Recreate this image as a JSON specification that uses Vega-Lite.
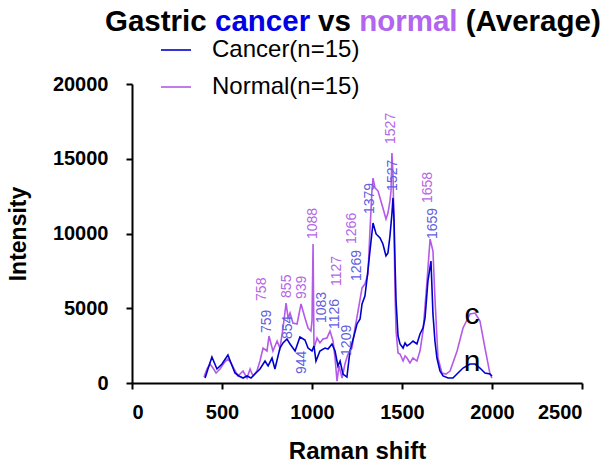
{
  "$schema": "https://vega.github.io/schema/vega-lite/v6.json",
  "width": 450,
  "height": 299,
  "autosize": {"type": "none"},
  "padding": {"left": 132, "top": 84, "right": 30, "bottom": 84},
  "background": "white",
  "config": {
    "view": {"stroke": null},
    "font": "Liberation Sans",
    "axis": {
      "domainColor": "black", "domainWidth": 2, "tickColor": "black", "tickWidth": 2, "tickSize": 6,
      "labelFont": "Liberation Sans", "labelFontWeight": "bold", "labelFontSize": 20, "labelColor": "black",
      "titleFont": "Liberation Sans", "titleFontWeight": "bold", "titleFontSize": 23, "titleColor": "black",
      "grid": false, "format": "d"
    },
    "legend": {
      "orient": "none", "legendX": 28, "legendY": -50,
      "symbolType": "stroke", "symbolSize": 900, "symbolStrokeWidth": 1.6,
      "labelFont": "Liberation Sans", "labelFontSize": 24, "labelColor": "black", "labelOffset": 20,
      "rowPadding": 9, "title": null
    }
  },
  "datasets": {
    "spectra": [
      {"series": "Cancer(n=15)", "shift": 406, "intensity": 330},
      {"series": "Cancer(n=15)", "shift": 422, "intensity": 940},
      {"series": "Cancer(n=15)", "shift": 444, "intensity": 1740},
      {"series": "Cancer(n=15)", "shift": 472, "intensity": 940},
      {"series": "Cancer(n=15)", "shift": 500, "intensity": 1270},
      {"series": "Cancer(n=15)", "shift": 533, "intensity": 1870},
      {"series": "Cancer(n=15)", "shift": 550, "intensity": 1340},
      {"series": "Cancer(n=15)", "shift": 572, "intensity": 670},
      {"series": "Cancer(n=15)", "shift": 594, "intensity": 470},
      {"series": "Cancer(n=15)", "shift": 617, "intensity": 330},
      {"series": "Cancer(n=15)", "shift": 639, "intensity": 470},
      {"series": "Cancer(n=15)", "shift": 661, "intensity": 330},
      {"series": "Cancer(n=15)", "shift": 683, "intensity": 600},
      {"series": "Cancer(n=15)", "shift": 711, "intensity": 940},
      {"series": "Cancer(n=15)", "shift": 739, "intensity": 1470},
      {"series": "Cancer(n=15)", "shift": 756, "intensity": 1140},
      {"series": "Cancer(n=15)", "shift": 778, "intensity": 1670},
      {"series": "Cancer(n=15)", "shift": 794, "intensity": 940},
      {"series": "Cancer(n=15)", "shift": 822, "intensity": 2340},
      {"series": "Cancer(n=15)", "shift": 839, "intensity": 2680},
      {"series": "Cancer(n=15)", "shift": 861, "intensity": 2940},
      {"series": "Cancer(n=15)", "shift": 878, "intensity": 2610},
      {"series": "Cancer(n=15)", "shift": 906, "intensity": 2140},
      {"series": "Cancer(n=15)", "shift": 933, "intensity": 3080},
      {"series": "Cancer(n=15)", "shift": 961, "intensity": 2880},
      {"series": "Cancer(n=15)", "shift": 978, "intensity": 2340},
      {"series": "Cancer(n=15)", "shift": 1000, "intensity": 2140},
      {"series": "Cancer(n=15)", "shift": 1011, "intensity": 2480},
      {"series": "Cancer(n=15)", "shift": 1022, "intensity": 1470},
      {"series": "Cancer(n=15)", "shift": 1044, "intensity": 2140},
      {"series": "Cancer(n=15)", "shift": 1072, "intensity": 2340},
      {"series": "Cancer(n=15)", "shift": 1089, "intensity": 2270},
      {"series": "Cancer(n=15)", "shift": 1111, "intensity": 2610},
      {"series": "Cancer(n=15)", "shift": 1128, "intensity": 2140},
      {"series": "Cancer(n=15)", "shift": 1144, "intensity": 1140},
      {"series": "Cancer(n=15)", "shift": 1156, "intensity": 1470},
      {"series": "Cancer(n=15)", "shift": 1172, "intensity": 600},
      {"series": "Cancer(n=15)", "shift": 1194, "intensity": 400},
      {"series": "Cancer(n=15)", "shift": 1211, "intensity": 2140},
      {"series": "Cancer(n=15)", "shift": 1233, "intensity": 3140},
      {"series": "Cancer(n=15)", "shift": 1250, "intensity": 3950},
      {"series": "Cancer(n=15)", "shift": 1267, "intensity": 4280},
      {"series": "Cancer(n=15)", "shift": 1278, "intensity": 5290},
      {"series": "Cancer(n=15)", "shift": 1294, "intensity": 5820},
      {"series": "Cancer(n=15)", "shift": 1306, "intensity": 7020},
      {"series": "Cancer(n=15)", "shift": 1322, "intensity": 8830},
      {"series": "Cancer(n=15)", "shift": 1339, "intensity": 10700},
      {"series": "Cancer(n=15)", "shift": 1356, "intensity": 9970},
      {"series": "Cancer(n=15)", "shift": 1378, "intensity": 9700},
      {"series": "Cancer(n=15)", "shift": 1394, "intensity": 9300},
      {"series": "Cancer(n=15)", "shift": 1411, "intensity": 8500},
      {"series": "Cancer(n=15)", "shift": 1422, "intensity": 8700},
      {"series": "Cancer(n=15)", "shift": 1433, "intensity": 9830},
      {"series": "Cancer(n=15)", "shift": 1444, "intensity": 11310},
      {"series": "Cancer(n=15)", "shift": 1450, "intensity": 12380},
      {"series": "Cancer(n=15)", "shift": 1456, "intensity": 10840},
      {"series": "Cancer(n=15)", "shift": 1461, "intensity": 8160},
      {"series": "Cancer(n=15)", "shift": 1467, "intensity": 5490},
      {"series": "Cancer(n=15)", "shift": 1478, "intensity": 3140},
      {"series": "Cancer(n=15)", "shift": 1489, "intensity": 2610},
      {"series": "Cancer(n=15)", "shift": 1506, "intensity": 2340},
      {"series": "Cancer(n=15)", "shift": 1517, "intensity": 2680},
      {"series": "Cancer(n=15)", "shift": 1528, "intensity": 2480},
      {"series": "Cancer(n=15)", "shift": 1544, "intensity": 2610},
      {"series": "Cancer(n=15)", "shift": 1561, "intensity": 2810},
      {"series": "Cancer(n=15)", "shift": 1583, "intensity": 2610},
      {"series": "Cancer(n=15)", "shift": 1600, "intensity": 3280},
      {"series": "Cancer(n=15)", "shift": 1617, "intensity": 3680},
      {"series": "Cancer(n=15)", "shift": 1628, "intensity": 4350},
      {"series": "Cancer(n=15)", "shift": 1644, "intensity": 6820},
      {"series": "Cancer(n=15)", "shift": 1661, "intensity": 8160},
      {"series": "Cancer(n=15)", "shift": 1672, "intensity": 4620},
      {"series": "Cancer(n=15)", "shift": 1683, "intensity": 2810},
      {"series": "Cancer(n=15)", "shift": 1694, "intensity": 1670},
      {"series": "Cancer(n=15)", "shift": 1711, "intensity": 800},
      {"series": "Cancer(n=15)", "shift": 1728, "intensity": 470},
      {"series": "Cancer(n=15)", "shift": 1756, "intensity": 330},
      {"series": "Cancer(n=15)", "shift": 1783, "intensity": 330},
      {"series": "Cancer(n=15)", "shift": 1811, "intensity": 670},
      {"series": "Cancer(n=15)", "shift": 1839, "intensity": 1000},
      {"series": "Cancer(n=15)", "shift": 1878, "intensity": 1270},
      {"series": "Cancer(n=15)", "shift": 1906, "intensity": 1270},
      {"series": "Cancer(n=15)", "shift": 1933, "intensity": 1000},
      {"series": "Cancer(n=15)", "shift": 1961, "intensity": 670},
      {"series": "Cancer(n=15)", "shift": 1989, "intensity": 600},
      {"series": "Cancer(n=15)", "shift": 2000, "intensity": 470},
      {"series": "Normal(n=15)", "shift": 400, "intensity": 400},
      {"series": "Normal(n=15)", "shift": 417, "intensity": 940},
      {"series": "Normal(n=15)", "shift": 433, "intensity": 1270},
      {"series": "Normal(n=15)", "shift": 450, "intensity": 1000},
      {"series": "Normal(n=15)", "shift": 467, "intensity": 670},
      {"series": "Normal(n=15)", "shift": 489, "intensity": 940},
      {"series": "Normal(n=15)", "shift": 511, "intensity": 1340},
      {"series": "Normal(n=15)", "shift": 533, "intensity": 1610},
      {"series": "Normal(n=15)", "shift": 550, "intensity": 1340},
      {"series": "Normal(n=15)", "shift": 567, "intensity": 940},
      {"series": "Normal(n=15)", "shift": 589, "intensity": 470},
      {"series": "Normal(n=15)", "shift": 617, "intensity": 800},
      {"series": "Normal(n=15)", "shift": 639, "intensity": 330},
      {"series": "Normal(n=15)", "shift": 656, "intensity": 940},
      {"series": "Normal(n=15)", "shift": 672, "intensity": 470},
      {"series": "Normal(n=15)", "shift": 694, "intensity": 800},
      {"series": "Normal(n=15)", "shift": 711, "intensity": 1470},
      {"series": "Normal(n=15)", "shift": 728, "intensity": 2340},
      {"series": "Normal(n=15)", "shift": 750, "intensity": 2140},
      {"series": "Normal(n=15)", "shift": 761, "intensity": 3140},
      {"series": "Normal(n=15)", "shift": 783, "intensity": 2140},
      {"series": "Normal(n=15)", "shift": 806, "intensity": 2810},
      {"series": "Normal(n=15)", "shift": 822, "intensity": 2340},
      {"series": "Normal(n=15)", "shift": 839, "intensity": 3680},
      {"series": "Normal(n=15)", "shift": 856, "intensity": 5350},
      {"series": "Normal(n=15)", "shift": 867, "intensity": 4350},
      {"series": "Normal(n=15)", "shift": 878, "intensity": 4680},
      {"series": "Normal(n=15)", "shift": 894, "intensity": 4010},
      {"series": "Normal(n=15)", "shift": 917, "intensity": 3950},
      {"series": "Normal(n=15)", "shift": 939, "intensity": 5290},
      {"series": "Normal(n=15)", "shift": 961, "intensity": 4350},
      {"series": "Normal(n=15)", "shift": 978, "intensity": 3680},
      {"series": "Normal(n=15)", "shift": 994, "intensity": 3480},
      {"series": "Normal(n=15)", "shift": 1000, "intensity": 4150},
      {"series": "Normal(n=15)", "shift": 1006, "intensity": 9300},
      {"series": "Normal(n=15)", "shift": 1011, "intensity": 2340},
      {"series": "Normal(n=15)", "shift": 1028, "intensity": 3010},
      {"series": "Normal(n=15)", "shift": 1044, "intensity": 2680},
      {"series": "Normal(n=15)", "shift": 1061, "intensity": 2940},
      {"series": "Normal(n=15)", "shift": 1083, "intensity": 3010},
      {"series": "Normal(n=15)", "shift": 1100, "intensity": 3480},
      {"series": "Normal(n=15)", "shift": 1117, "intensity": 2810},
      {"series": "Normal(n=15)", "shift": 1128, "intensity": 1670},
      {"series": "Normal(n=15)", "shift": 1139, "intensity": 130},
      {"series": "Normal(n=15)", "shift": 1150, "intensity": 1140},
      {"series": "Normal(n=15)", "shift": 1167, "intensity": 330},
      {"series": "Normal(n=15)", "shift": 1183, "intensity": 1270},
      {"series": "Normal(n=15)", "shift": 1200, "intensity": 1940},
      {"series": "Normal(n=15)", "shift": 1222, "intensity": 2340},
      {"series": "Normal(n=15)", "shift": 1239, "intensity": 3680},
      {"series": "Normal(n=15)", "shift": 1256, "intensity": 4820},
      {"series": "Normal(n=15)", "shift": 1278, "intensity": 6360},
      {"series": "Normal(n=15)", "shift": 1294, "intensity": 6620},
      {"series": "Normal(n=15)", "shift": 1311, "intensity": 7290},
      {"series": "Normal(n=15)", "shift": 1322, "intensity": 10170},
      {"series": "Normal(n=15)", "shift": 1333, "intensity": 12840},
      {"series": "Normal(n=15)", "shift": 1339, "intensity": 13710},
      {"series": "Normal(n=15)", "shift": 1350, "intensity": 13050},
      {"series": "Normal(n=15)", "shift": 1367, "intensity": 12840},
      {"series": "Normal(n=15)", "shift": 1378, "intensity": 12380},
      {"series": "Normal(n=15)", "shift": 1394, "intensity": 11710},
      {"series": "Normal(n=15)", "shift": 1411, "intensity": 10970},
      {"series": "Normal(n=15)", "shift": 1422, "intensity": 11370},
      {"series": "Normal(n=15)", "shift": 1433, "intensity": 12180},
      {"series": "Normal(n=15)", "shift": 1439, "intensity": 12840},
      {"series": "Normal(n=15)", "shift": 1444, "intensity": 15390},
      {"series": "Normal(n=15)", "shift": 1450, "intensity": 13980},
      {"series": "Normal(n=15)", "shift": 1456, "intensity": 10170},
      {"series": "Normal(n=15)", "shift": 1461, "intensity": 6150},
      {"series": "Normal(n=15)", "shift": 1467, "intensity": 3480},
      {"series": "Normal(n=15)", "shift": 1478, "intensity": 2010},
      {"series": "Normal(n=15)", "shift": 1489, "intensity": 1940},
      {"series": "Normal(n=15)", "shift": 1506, "intensity": 1470},
      {"series": "Normal(n=15)", "shift": 1517, "intensity": 1810},
      {"series": "Normal(n=15)", "shift": 1528, "intensity": 1670},
      {"series": "Normal(n=15)", "shift": 1544, "intensity": 1340},
      {"series": "Normal(n=15)", "shift": 1561, "intensity": 1670},
      {"series": "Normal(n=15)", "shift": 1583, "intensity": 1470},
      {"series": "Normal(n=15)", "shift": 1600, "intensity": 2140},
      {"series": "Normal(n=15)", "shift": 1617, "intensity": 3480},
      {"series": "Normal(n=15)", "shift": 1639, "intensity": 6820},
      {"series": "Normal(n=15)", "shift": 1656, "intensity": 9630},
      {"series": "Normal(n=15)", "shift": 1672, "intensity": 8830},
      {"series": "Normal(n=15)", "shift": 1683, "intensity": 5690},
      {"series": "Normal(n=15)", "shift": 1700, "intensity": 1670},
      {"series": "Normal(n=15)", "shift": 1722, "intensity": 670},
      {"series": "Normal(n=15)", "shift": 1744, "intensity": 600},
      {"series": "Normal(n=15)", "shift": 1767, "intensity": 800},
      {"series": "Normal(n=15)", "shift": 1806, "intensity": 2140},
      {"series": "Normal(n=15)", "shift": 1839, "intensity": 3680},
      {"series": "Normal(n=15)", "shift": 1878, "intensity": 4620},
      {"series": "Normal(n=15)", "shift": 1906, "intensity": 4680},
      {"series": "Normal(n=15)", "shift": 1933, "intensity": 4150},
      {"series": "Normal(n=15)", "shift": 1961, "intensity": 2340},
      {"series": "Normal(n=15)", "shift": 1989, "intensity": 600},
      {"series": "Normal(n=15)", "shift": 2000, "intensity": 330}
    ],
    "peaks": [
      {"series": "Normal", "label": "758", "shift": 722, "intensity": 5490},
      {"series": "Cancer", "label": "759", "shift": 750, "intensity": 3345},
      {"series": "Normal", "label": "855", "shift": 861, "intensity": 5690},
      {"series": "Cancer", "label": "854", "shift": 867, "intensity": 2940},
      {"series": "Normal", "label": "939", "shift": 944, "intensity": 5620},
      {"series": "Cancer", "label": "944", "shift": 944, "intensity": 600},
      {"series": "Normal", "label": "1088", "shift": 1006, "intensity": 9630},
      {"series": "Cancer", "label": "1083", "shift": 1056, "intensity": 4010},
      {"series": "Normal", "label": "1127", "shift": 1139, "intensity": 6490},
      {"series": "Cancer", "label": "1126", "shift": 1128, "intensity": 3610},
      {"series": "Cancer", "label": "1209", "shift": 1194, "intensity": 1810},
      {"series": "Normal", "label": "1266", "shift": 1222, "intensity": 9300},
      {"series": "Cancer", "label": "1269", "shift": 1250, "intensity": 6820},
      {"series": "Cancer", "label": "1379", "shift": 1322, "intensity": 11300},
      {"series": "Normal", "label": "1527", "shift": 1439, "intensity": 15990},
      {"series": "Cancer", "label": "1527", "shift": 1450, "intensity": 12850},
      {"series": "Normal", "label": "1658", "shift": 1644, "intensity": 12040},
      {"series": "Cancer", "label": "1659", "shift": 1672, "intensity": 9630}
    ],
    "marks": [
      {"label": "c", "shift": 1889, "intensity": 3950},
      {"label": "n", "shift": 1889, "intensity": 800}
    ],
    "titleParts": [
      {"part": "Gastric", "tone": "black", "shift": -150, "intensity": 23550},
      {"part": "cancer", "tone": "blue", "shift": 461, "intensity": 23550},
      {"part": "vs", "tone": "black", "shift": 1034, "intensity": 23550},
      {"part": "normal", "tone": "purple", "shift": 1262, "intensity": 23550},
      {"part": "(Average)", "tone": "black", "shift": 1854, "intensity": 23550}
    ]
  },
  "encoding": {
    "x": {"field": "shift", "type": "quantitative", "scale": {"domain": [0, 2500], "nice": false},
          "axis": {"title": "Raman shift", "titleFontSize": 24, "values": [0, 500, 1000, 1500, 2000, 2500], "labelPadding": 13, "titlePadding": 17}},
    "y": {"field": "intensity", "type": "quantitative", "scale": {"domain": [0, 20000], "nice": false},
          "axis": {"title": "Intensity", "values": [0, 5000, 10000, 15000, 20000], "labelPadding": 18, "titlePadding": 22}}
  },
  "layer": [
    {
      "data": {"name": "spectra"},
      "transform": [{"filter": "datum.series === 'Normal(n=15)'"}],
      "mark": {"type": "line", "strokeWidth": 1.6, "clip": false},
      "encoding": {
        "color": {"field": "series", "type": "nominal",
                  "scale": {"domain": ["Cancer(n=15)", "Normal(n=15)"], "range": ["#0000CC", "#B45AE8"]},
                  "legend": {"title": null}}
      }
    },
    {
      "data": {"name": "spectra"},
      "transform": [{"filter": "datum.series === 'Cancer(n=15)'"}],
      "mark": {"type": "line", "strokeWidth": 1.6, "clip": false},
      "encoding": {
        "color": {"field": "series", "type": "nominal"}
      }
    },
    {
      "data": {"name": "peaks"},
      "transform": [{"filter": "datum.series === 'Normal'"}],
      "mark": {"type": "text", "angle": 270, "align": "left", "baseline": "middle", "fontSize": 14, "color": "#B466E6", "font": "Liberation Sans"},
      "encoding": {"text": {"field": "label"}}
    },
    {
      "data": {"name": "peaks"},
      "transform": [{"filter": "datum.series === 'Cancer'"}],
      "mark": {"type": "text", "angle": 270, "align": "left", "baseline": "middle", "fontSize": 14, "color": "#6060E0", "font": "Liberation Sans"},
      "encoding": {"text": {"field": "label"}}
    },
    {
      "data": {"name": "marks"},
      "mark": {"type": "text", "align": "center", "baseline": "alphabetic", "fontSize": 30, "color": "black", "font": "Liberation Sans"},
      "encoding": {"text": {"field": "label"}}
    },
    {
      "data": {"name": "titleParts"},
      "transform": [{"filter": "datum.tone === 'black'"}],
      "mark": {"type": "text", "align": "left", "baseline": "alphabetic", "fontSize": 29.5, "fontWeight": "bold", "font": "Liberation Sans", "color": "#000000", "clip": false},
      "encoding": {"text": {"field": "part"}}
    },
    {
      "data": {"name": "titleParts"},
      "transform": [{"filter": "datum.tone === 'blue'"}],
      "mark": {"type": "text", "align": "left", "baseline": "alphabetic", "fontSize": 29.5, "fontWeight": "bold", "font": "Liberation Sans", "color": "#0000E6", "clip": false},
      "encoding": {"text": {"field": "part"}}
    },
    {
      "data": {"name": "titleParts"},
      "transform": [{"filter": "datum.tone === 'purple'"}],
      "mark": {"type": "text", "align": "left", "baseline": "alphabetic", "fontSize": 29.5, "fontWeight": "bold", "font": "Liberation Sans", "color": "#B266F0", "clip": false},
      "encoding": {"text": {"field": "part"}}
    }
  ]
}
